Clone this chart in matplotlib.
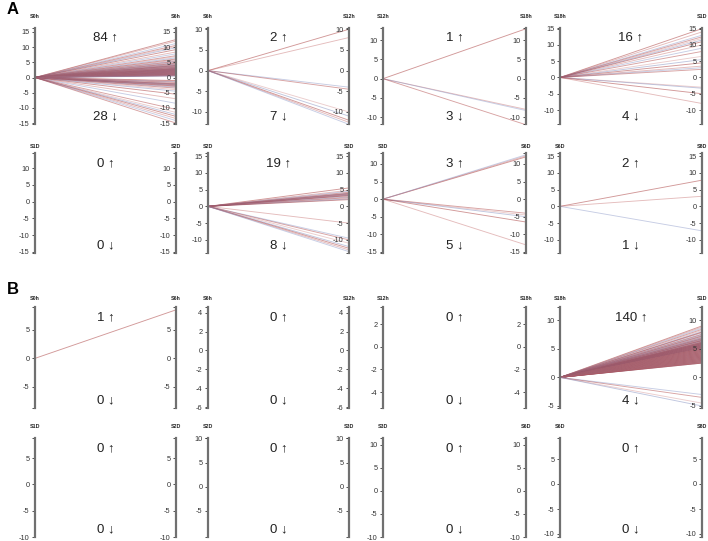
import matplotlib
matplotlib.use("Agg")
import matplotlib.pyplot as plt

plt.rcParams["font.family"] = ["Liberation Sans", "DejaVu Sans"]
plt.rcParams["axes.unicode_minus"] = False

# ---- data -------------------------------------------------------------
# axis names (left, right) per panel, panel order: A row1, A row2, B row1, B row2
stages = ["S0h", "S6h", "S12h", "S18h", "S1D", "S2D", "S3D", "S6D", "S8D"]
pairs = [(stages[i], stages[i + 1]) for i in range(8)]

up_counts_A = [84, 2, 1, 16, 0, 19, 3, 2]
down_counts_A = [28, 7, 3, 4, 0, 8, 5, 1]
up_counts_B = [1, 0, 0, 140, 0, 0, 0, 0]
down_counts_B = [0, 0, 0, 4, 0, 0, 0, 0]

# end values (log fold change at the right axis) of every gene line
a_0h_6h = [12.5, 12.0, 11.2, 10.6, 10.2, 9.8, 9.2, 8.4, 7.8, 7.2,
           6.9, 6.5, 6.1, 5.8, 5.5, 5.3, 5.1, 4.9, 4.7, 4.5,
           4.4, 4.2, 4.1, 4.0, 3.9, 3.8, 3.7, 3.6, 3.5, 3.4,
           3.3, 3.2, 3.1, 3.0, 3.0, 2.9, 2.9, 2.8, 2.8, 2.7,
           2.7, 2.6, 2.6, 2.5, 2.5, 2.4, 2.4, 2.3, 2.3, 2.2,
           2.2, 2.1, 2.1, 2.0, 2.0, 1.9, 1.9, 1.8, 1.8, 1.7,
           1.7, 1.6, 1.6, 1.5, 1.5, 1.4, 1.4, 1.3, 1.3, 1.2,
           1.2, 1.1, 1.1, 1.0, 1.0, 0.9, 0.9, 0.8, 0.8, 0.7,
           0.7, 0.6, 0.6, 0.5,
           -1.0, -1.2, -1.4, -1.6, -1.8, -2.0, -2.1, -2.2, -2.3, -2.4,
           -2.5, -2.6, -2.8, -3.0, -3.2, -3.5, -4.0, -4.5, -5.5, -7.0,
           -8.5, -10.5, -11.5, -12.2, -12.8, -13.5, -14.2, -15.0]
a_6h_12h = [10.0, 8.0, -4.0, -4.5, -10.0, -11.0, -12.0, -12.5, -13.0]
a_12h_18h = [13.0, -8.0, -8.3, -12.0]
a_18h_1d = [15.0, 14.0, 13.0, 12.5, 12.0, 11.5, 11.0, 10.0, 9.0, 8.0,
            6.5, 5.5, 4.5, 3.5, 3.0, 2.5, -3.0, -3.3, -5.0, -8.0]
a_1d_2d = []
a_2d_3d = [5.5, 4.8, 4.5, 4.2, 4.0, 3.9, 3.8, 3.7, 3.6, 3.5,
           3.4, 3.3, 3.2, 3.0, 2.8, 2.6, 2.4, 2.2, 2.0,
           -5.0, -9.5, -10.0, -11.0, -12.0, -12.5, -13.0, -13.5]
a_3d_6d = [12.0, 12.3, 12.6, -4.0, -4.5, -5.0, -6.5, -13.0]
a_6d_8d = [7.8, 3.0, -7.3]

b_0h_6h = [8.5]
b_6h_12h = []
b_12h_18h = []
b_18h_1d = [9.0, 8.8, 8.6, 8.4, 8.2, 8.0, 7.9, 7.8, 7.6, 7.5,
            7.4, 7.3, 7.2, 7.1, 7.0, 6.9, 6.8, 6.8, 6.7, 6.6,
            6.6, 6.5, 6.5, 6.4, 6.4, 6.3, 6.3, 6.2, 6.2, 6.1,
            6.1, 6.0, 6.0, 6.0, 5.9, 5.9, 5.9, 5.8, 5.8, 5.8,
            5.7, 5.7, 5.7, 5.6, 5.6, 5.6, 5.5, 5.5, 5.5, 5.4,
            5.4, 5.4, 5.3, 5.3, 5.3, 5.2, 5.2, 5.2, 5.1, 5.1,
            5.1, 5.0, 5.0, 5.0, 5.0, 4.9, 4.9, 4.9, 4.8, 4.8,
            4.8, 4.7, 4.7, 4.7, 4.6, 4.6, 4.6, 4.5, 4.5, 4.5,
            4.4, 4.4, 4.4, 4.3, 4.3, 4.3, 4.2, 4.2, 4.2, 4.1,
            4.1, 4.1, 4.0, 4.0, 4.0, 3.9, 3.9, 3.9, 3.8, 3.8,
            3.8, 3.7, 3.7, 3.7, 3.6, 3.6, 3.6, 3.5, 3.5, 3.5,
            3.4, 3.4, 3.4, 3.3, 3.3, 3.3, 3.2, 3.2, 3.2, 3.1,
            3.1, 3.1, 3.0, 3.0, 3.0, 2.9, 2.9, 2.9, 2.8, 2.8,
            2.8, 2.7, 2.7, 2.7, 2.6, 2.6, 2.6, 2.5, 2.5, 2.5,
            -3.0, -3.5, -4.5, -5.0]
b_1d_2d = []
b_2d_3d = []
b_3d_6d = []
b_6d_8d = []

values_A = [a_0h_6h, a_6h_12h, a_12h_18h, a_18h_1d, a_1d_2d, a_2d_3d, a_3d_6d, a_6d_8d]
values_B = [b_0h_6h, b_6h_12h, b_12h_18h, b_18h_1d, b_1d_2d, b_2d_3d, b_3d_6d, b_6d_8d]

ylims_A = [(-15.3, 16.3), (-12.9, 10.3), (-11.8, 13.2), (-14.3, 15.2),
           (-15.3, 14.5), (-13.9, 15.9), (-15.3, 13.1), (-13.9, 15.9)]
ylims_B = [(-8.7, 9.0), (-6.1, 4.6), (-5.4, 3.5), (-5.35, 12.3),
           (-10.0, 8.8), (-10.5, 10.1), (-10.0, 11.5), (-10.6, 9.2)]
yticks_A = [[-15, -10, -5, 0, 5, 10, 15], [-10, -5, 0, 5, 10], [-10, -5, 0, 5, 10],
            [-10, -5, 0, 5, 10, 15], [-15, -10, -5, 0, 5, 10], [-10, -5, 0, 5, 10, 15],
            [-15, -10, -5, 0, 5, 10], [-10, -5, 0, 5, 10, 15]]
yticks_B = [[-5, 0, 5], [-6, -4, -2, 0, 2, 4], [-4, -2, 0, 2], [-5, 0, 5, 10],
            [-10, -5, 0, 5], [-5, 0, 5, 10], [-10, -5, 0, 5, 10], [-10, -5, 0, 5]]

# ---- layout (pixels) ----------------------------------------------------
W, H = 708, 541
COL_LEFT = [35, 208, 383, 560]
COL_RIGHT = [176, 349, 526, 702]
ROW_TOP = [28, 153, 307, 438]
ROW_BOT = [124, 253, 408, 537]
TITLE_Y = [17, 146, 298, 426]

LINE_COLORS = ["#9b1c1c", "#c46a6a", "#8290c4", "#a83232", "#d49090", "#7381b8"]
AXIS_GREY = "#707070"


def fx(px):
    return px / W


def fy(py):
    return 1 - py / H


def _vaxis(fig, xpx, row, ylim, ticks):
    ax = fig.add_axes([fx(xpx), fy(ROW_BOT[row]), 0.001, (ROW_BOT[row] - ROW_TOP[row]) / H])
    ax.set_ylim(*ylim)
    ax.set_xticks([])
    for s in ("top", "right", "bottom"):
        ax.spines[s].set_visible(False)
    ax.spines["left"].set_color(AXIS_GREY)
    ax.spines["left"].set_linewidth(1.6)
    ax.set_yticks(ticks)
    # little end caps of the bracket-like axis
    ax.set_yticks(list(ylim), minor=True)
    ax.tick_params(axis="y", which="major", length=2.5, width=0.6, pad=1.5,
                   labelsize=5.3, color="#333333", labelcolor="#333333")
    ax.tick_params(axis="y", which="minor", length=2.5, width=0.6, color="#333333")
    ax.patch.set_visible(False)
    return ax


def panel(fig, row, col, vals, ylim, ticks, names, n_up, n_down):
    l, r = COL_LEFT[col], COL_RIGHT[col]
    ax = fig.add_axes([fx(l), fy(ROW_BOT[row]), (r - l) / W,
                       (ROW_BOT[row] - ROW_TOP[row]) / H])
    ax.set_xlim(0, 1)
    ax.set_ylim(*ylim)
    ax.axis("off")
    for i, v in enumerate(vals):
        ax.plot([0, 1], [0, v], color=LINE_COLORS[i % len(LINE_COLORS)],
                lw=0.65, alpha=0.45, clip_on=False, solid_capstyle="butt")
    ax.text(0.5, 0.9, f"{n_up} \u2191", ha="center", va="center",
            fontsize=9.5, color="#222222", transform=ax.transAxes)
    ax.text(0.5, 0.08, f"{n_down} \u2193", ha="center", va="center",
            fontsize=9.5, color="#222222", transform=ax.transAxes)

    for xpx, name in zip((l, r), names):
        _vaxis(fig, xpx, row, ylim, ticks)
        fig.text(fx(xpx), fy(TITLE_Y[row]), name, ha="center", va="center",
                 fontsize=3.8, fontweight="bold", color="#222222")


fig = plt.figure(figsize=(W / 100, H / 100), dpi=100)

for k in range(8):
    row, col = divmod(k, 4)
    panel(fig, row, col, values_A[k], ylims_A[k], yticks_A[k], pairs[k],
          up_counts_A[k], down_counts_A[k])
    panel(fig, row + 2, col, values_B[k], ylims_B[k], yticks_B[k], pairs[k],
          up_counts_B[k], down_counts_B[k])

fig.text(fx(7), fy(10), "A", fontsize=12, fontweight="bold", ha="left", va="center")
fig.text(fx(7), fy(290), "B", fontsize=12, fontweight="bold", ha="left", va="center")

fig.savefig("out.png", dpi=100)
